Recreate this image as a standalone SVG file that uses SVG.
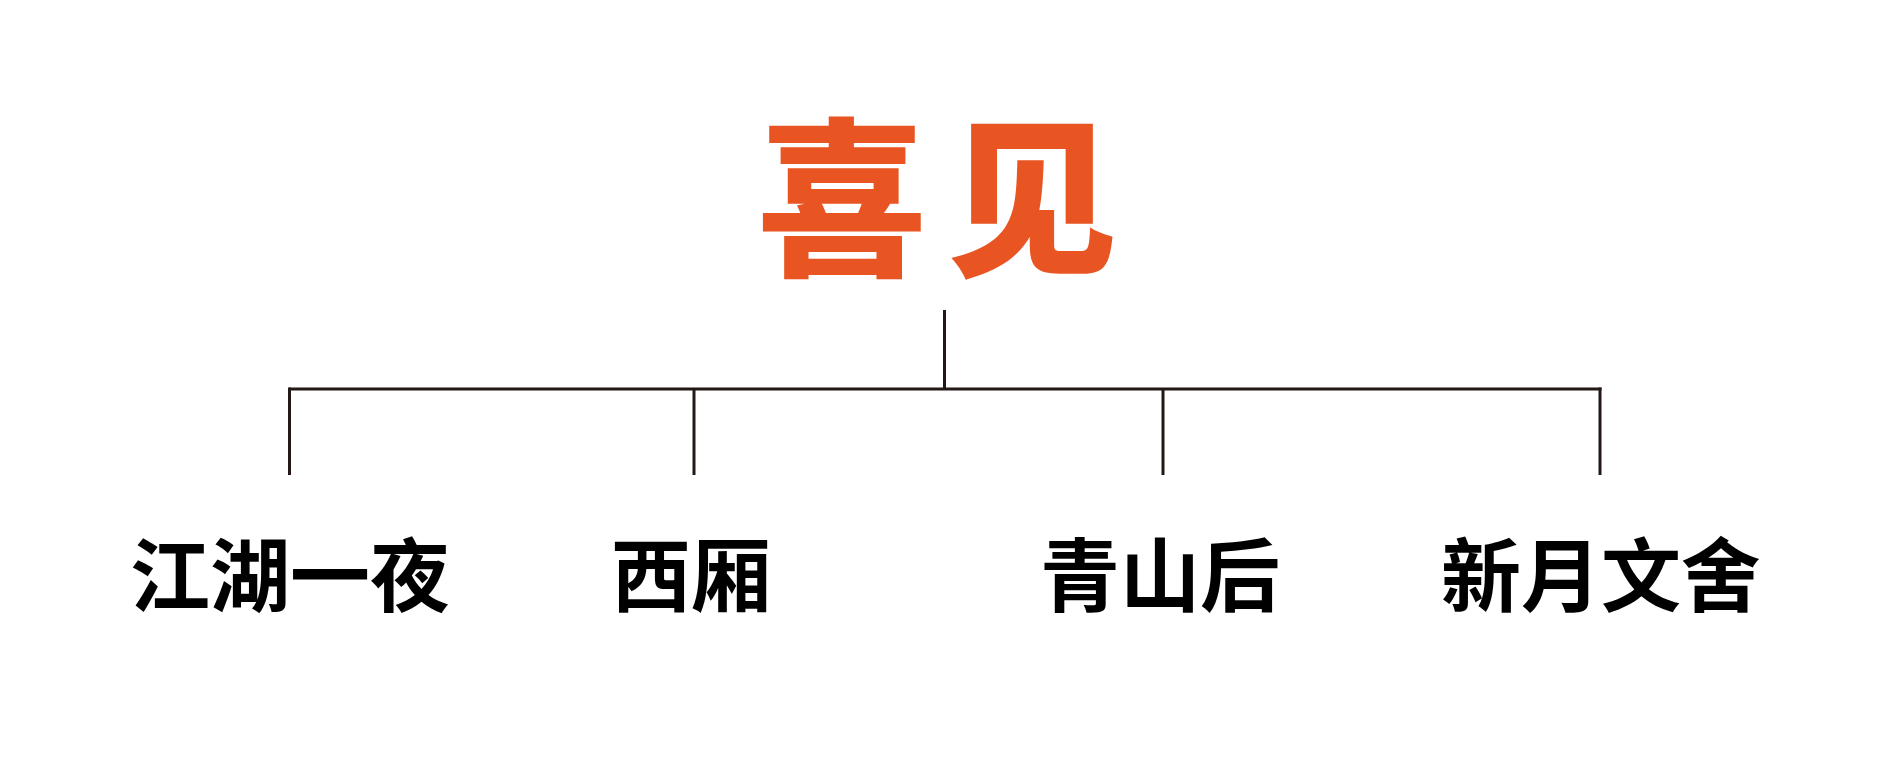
<svg xmlns="http://www.w3.org/2000/svg" width="1890" height="783" viewBox="0 0 1890 783">
  <style>
    .title { font-family: "Noto Sans CJK SC", "Noto Sans CJK JP", sans-serif; font-weight: 900; font-size: 170px; fill: #E95522; }
    .label { font-family: "Noto Sans CJK SC", "Noto Sans CJK JP", sans-serif; font-weight: 700; font-size: 80px; fill: #000000; }
    .conn { stroke: #231815; stroke-width: 3; fill: none; stroke-linecap: butt; }
  </style>
  <rect width="1890" height="783" fill="#ffffff"/>
  <g id="connectors">
    <line class="conn" x1="944.5" y1="310" x2="944.5" y2="389"/>
    <line class="conn" x1="289" y1="389" x2="1601.5" y2="389"/>
    <line class="conn" x1="289.5" y1="387.5" x2="289.5" y2="475"/>
    <line class="conn" x1="694" y1="389" x2="694" y2="475"/>
    <line class="conn" x1="1163" y1="389" x2="1163" y2="475"/>
    <line class="conn" x1="1600" y1="387.5" x2="1600" y2="475"/>
  </g>
  <g id="node-root">
    <text class="title" x="947" y="263" text-anchor="middle" letter-spacing="20">喜见</text>
  </g>
  <g id="node-jianghu">
    <text class="label" x="290" y="605" text-anchor="middle">江湖一夜</text>
  </g>
  <g id="node-xixiang">
    <text class="label" x="691" y="605" text-anchor="middle">西厢</text>
  </g>
  <g id="node-qingshan">
    <text class="label" x="1160" y="605" text-anchor="middle">青山后</text>
  </g>
  <g id="node-xinyue">
    <text class="label" x="1601" y="605" text-anchor="middle">新月文舍</text>
  </g>
</svg>
